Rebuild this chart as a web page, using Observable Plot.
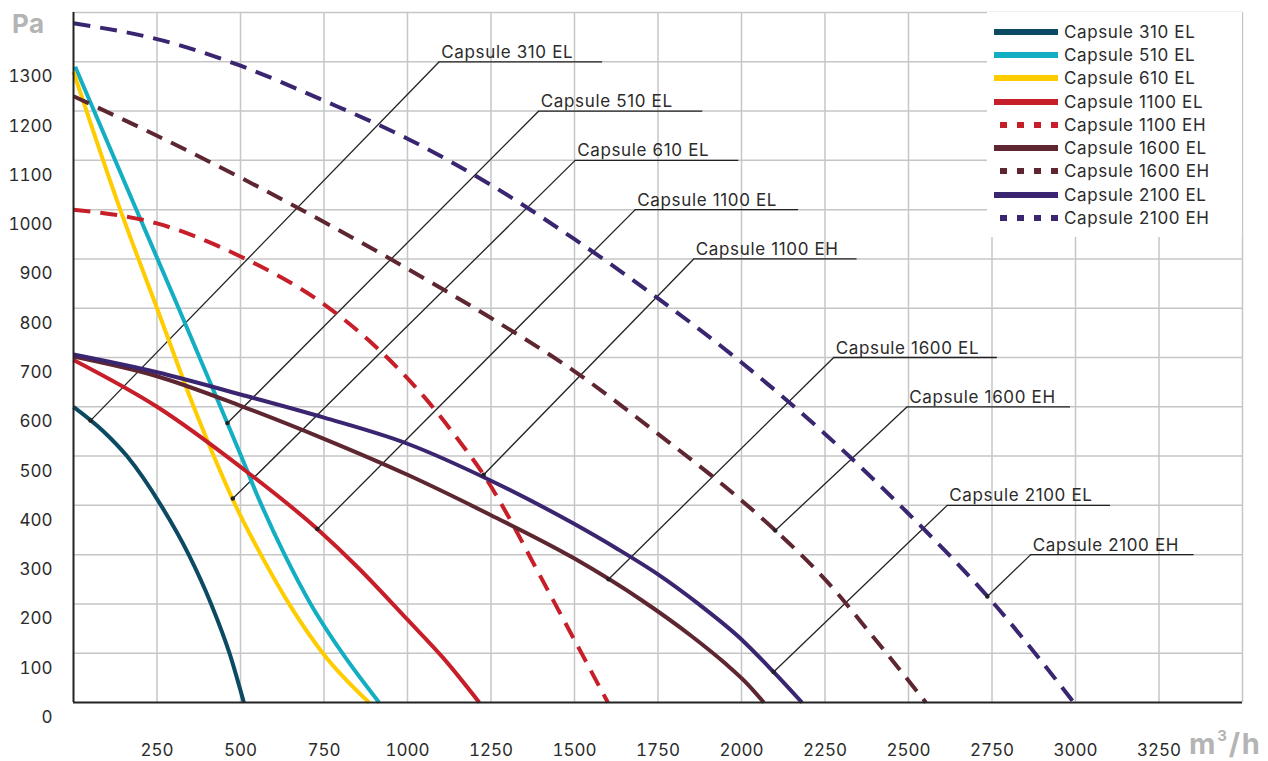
<!DOCTYPE html>
<html>
<head>
<meta charset="utf-8">
<script src="https://cdn.jsdelivr.net/npm/d3@7"></script>
<script src="https://cdn.jsdelivr.net/npm/@observablehq/plot@0.6"></script>
<style>
  body { margin: 0; background: #fff; font-family: Inter, "Open Sans", sans-serif; }
  #wrap { position: relative; width: 1268px; height: 761px; }
  #legend { position: absolute; left: 987px; top: 12px; width: 255px; height: 225px; background: #fff; padding-top: 8px; box-sizing: border-box; }
  .row { height: 23.3px; display: flex; align-items: center; font-size: 17px; letter-spacing: 0.6px; color: #2b2b2b; white-space: nowrap; }
  .row svg { margin-left: 7px; margin-right: 6px; }
  .unit { position: absolute; font-weight: 700; color: #b4b4b4; line-height: 1; }
  #chart g[aria-label="text"] text { letter-spacing: 0.65px; }
</style>
</head>
<body>
<div id="wrap">
  <div id="chart"></div>
  <div id="legend"></div>
  <div class="unit" style="left:12px; top:11px; font-size:26px; letter-spacing:0.5px;">Pa</div>
  <div class="unit" style="left:1189px; top:728px; font-size:29px; letter-spacing:1.8px;">m<sup style="font-size:15px; vertical-align: 13px;">3</sup>/h</div>
</div>
<script>
// ---- data (x: m³/h, y: Pa) ----
const seriesNames = ["Capsule 310 EL", "Capsule 510 EL", "Capsule 610 EL", "Capsule 1100 EL", "Capsule 1100 EH",
                     "Capsule 1600 EL", "Capsule 1600 EH", "Capsule 2100 EL", "Capsule 2100 EH"];
const seriesColors = ["#0b4a62", "#14aec3", "#ffcc00", "#c71f2a", "#c71f2a", "#5e2630", "#5e2630", "#3a2570", "#3a2570"];
const seriesDashed = [false, false, false, false, true, false, true, false, true];

const x310 = [0, 90, 160, 262, 345, 412, 467, 510];
const y310 = [600, 550, 500, 400, 300, 200, 100, 0];
const x510 = [5, 185, 318, 440, 500, 560, 632, 710, 805, 915];
const y510 = [1290, 1005, 795, 600, 503, 405, 300, 200, 100, 0];
const x610 = [0, 140, 250, 360, 420, 485, 565, 650, 750, 885];
const y610 = [1280, 1000, 800, 600, 500, 400, 295, 195, 97, 0];
const x1100EL = [0, 250, 500, 730, 850, 1000, 1110, 1215];
const y1100EL = [695, 600, 478, 352, 275, 168, 88, 0];
const x1100EH = [0, 250, 500, 750, 900, 1050, 1150, 1228, 1300, 1375, 1450, 1525, 1600];
const y1100EH = [1000, 972, 905, 808, 725, 620, 535, 462, 380, 285, 190, 95, 0];
const x1600EL = [0, 250, 500, 750, 1000, 1250, 1500, 1700, 1850, 1950, 2020, 2067];
const y1600EL = [702, 662, 602, 535, 462, 380, 292, 208, 135, 80, 36, 0];
const x1600EH = [0, 250, 500, 750, 1000, 1250, 1500, 1750, 2000, 2100, 2250, 2410, 2552];
const y1600EH = [1230, 1150, 1065, 975, 880, 780, 672, 545, 410, 350, 250, 120, 0];
const x2100EL = [0, 250, 500, 750, 1000, 1250, 1500, 1625, 1750, 1875, 2000, 2096, 2181];
const y2100EL = [706, 670, 625, 578, 525, 450, 362, 313, 260, 198, 128, 62, 0];
const x2100EH = [0, 250, 500, 750, 1000, 1250, 1500, 1750, 2000, 2250, 2500, 2750, 2995];
const y2100EH = [1378, 1346, 1292, 1221, 1144, 1050, 940, 820, 690, 545, 383, 205, 0];

// leader annotations (curve point -> elbow on a gridline -> end of underline)
const leaderFromX = [51, 461, 477, 730, 1228, 1602, 2101, 2096, 2736];
const leaderFromY = [572, 567, 414, 352, 462, 250, 349, 62, 215];
const leaderElbowX = [1095, 1393, 1502, 1682, 1857, 2276, 2496, 2616, 2866];
const leaderElbowY = [1300, 1200, 1100, 1000, 900, 700, 600, 400, 300];
const leaderEndX = [1584, 1884, 1992, 2171, 2346, 2766, 2985, 3105, 3355];

const xTicks = [250, 500, 750, 1000, 1250, 1500, 1750, 2000, 2250, 2500, 2750, 3000, 3250];
const xGrid = [250, 500, 750, 1000, 1250, 1500, 1750, 2000, 2250, 2500, 2750, 3000, 3250, 3500];
const yTicks = [0, 100, 200, 300, 400, 500, 600, 700, 800, 900, 1000, 1100, 1200, 1300];
const yGrid = [100, 200, 300, 400, 500, 600, 700, 800, 900, 1000, 1100, 1200, 1300, 1400];

// ---- build tables ----
const xs = [x310, x510, x610, x1100EL, x1100EH, x1600EL, x1600EH, x2100EL, x2100EH];
const ys = [y310, y510, y610, y1100EL, y1100EH, y1600EL, y1600EH, y2100EL, y2100EH];
const leaders = seriesNames.map((name, i) => ({
  name, x0: leaderFromX[i], y0: leaderFromY[i], x1: leaderElbowX[i], y1: leaderElbowY[i], x2: leaderEndX[i]
}));

const lineMarks = seriesNames.map((name, i) => {
  const rows = xs[i].map((x, j) => ({x, y: ys[i][j]}));
  return Plot.line(rows, {
    x: "x", y: "y", curve: "monotone-x",
    stroke: seriesColors[i], strokeWidth: 4,
    strokeDasharray: seriesDashed[i] ? "17,10" : null,
    strokeLinecap: "butt"
  });
});

const font = "Inter, 'Open Sans', sans-serif";
const chart = Plot.plot({
  width: 1268, height: 761,
  marginLeft: 73, marginRight: 26, marginTop: 12, marginBottom: 59,
  x: {domain: [0, 3500], label: null},
  y: {domain: [0, 1400], label: null},
  style: {fontFamily: font, fontSize: "17px", color: "#2b2b2b", background: "transparent"},
  marks: [
    Plot.gridX(xGrid, {stroke: "#c6c6c6", strokeOpacity: 1, strokeWidth: 1.5}),
    Plot.gridY(yGrid, {stroke: "#c6c6c6", strokeOpacity: 1, strokeWidth: 1.5}),
    Plot.axisX(xTicks, {tickSize: 0, tickPadding: 41, label: null, tickFormat: d => String(d), fontSize: 17}),
    Plot.axisY(yTicks, {tickSize: 0, tickPadding: 21, dy: 15, label: null, tickFormat: d => String(d), fontSize: 17}),
    Plot.link(leaders, {x1: "x0", y1: "y0", x2: "x1", y2: "y1", stroke: "#222", strokeWidth: 1.3}),
    Plot.ruleY(leaders, {y: "y1", x1: "x1", x2: "x2", stroke: "#222", strokeWidth: 1.3}),
    ...lineMarks,
    Plot.ruleX([0], {stroke: "#222", strokeWidth: 2}),
    Plot.ruleY([0], {stroke: "#222", strokeWidth: 2}),
    Plot.dot(leaders, {x: "x0", y: "y0", r: 2.3, fill: "#222"}),
    Plot.text(leaders, {x: "x1", y: "y1", text: "name", textAnchor: "start", lineAnchor: "bottom",
                        dx: 2, dy: -4, fontSize: 17, fill: "#2b2b2b"})
  ]
});
document.getElementById("chart").appendChild(chart);

// ---- legend ----
const legend = document.getElementById("legend");
seriesNames.forEach((name, i) => {
  const row = document.createElement("div");
  row.className = "row";
  const dash = seriesDashed[i] ? ' stroke-dasharray="7 10"' : '';
  row.innerHTML = `<svg width="64" height="8"><line x1="64" y1="4" x2="0" y2="4" stroke="${seriesColors[i]}" stroke-width="6"${dash}/></svg><span>${name}</span>`;
  legend.appendChild(row);
});
</script>
</body>
</html>
